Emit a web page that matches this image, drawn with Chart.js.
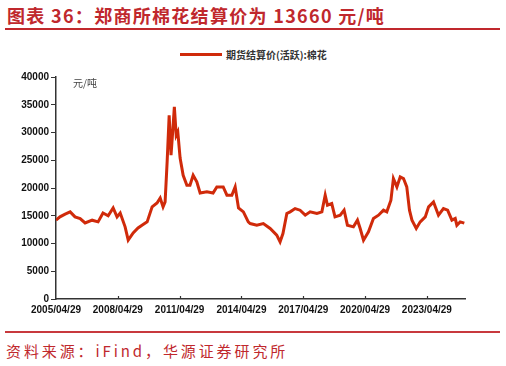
<!DOCTYPE html>
<html>
<head>
<meta charset="utf-8">
<script src="https://cdn.jsdelivr.net/npm/chart.js@4/dist/chart.umd.min.js"></script>
<style>
  html, body { margin: 0; padding: 0; background: #fff; }
  body { width: 506px; height: 366px; position: relative; overflow: hidden; }
  .title {
    position: absolute; left: 7px; top: 3px;
    font: 700 18px "Noto Sans CJK SC", sans-serif; letter-spacing: 1.3px;
    color: #c0282d; white-space: nowrap; line-height: 24px;
  }
  .rule-top { position: absolute; left: 5px; top: 28px; width: 495px; height: 2px; background: #c0282d; }
  .rule-bottom { position: absolute; left: 5px; top: 331px; width: 495px; height: 2px; background: #c8393d; }
  .source {
    position: absolute; left: 6px; top: 341px;
    font: 400 15px "Noto Sans CJK SC", sans-serif; letter-spacing: 2.9px;
    color: #c0282d; white-space: nowrap; line-height: 20px;
  }
  .legend { position: absolute; left: 180px; top: 47px; height: 16px; white-space: nowrap; }
  .legend .swatch { position: absolute; left: 0; top: 6px; width: 42px; height: 3px; background: #d02a0a; }
  .legend .label {
    position: absolute; left: 46px; top: 0; line-height: 16px;
    font: 700 10px "Noto Sans CJK SC", sans-serif; color: #333;
  }
  .unit {
    position: absolute; left: 73px; top: 76px;
    font: 400 10px "Noto Sans CJK SC", sans-serif; color: #444; line-height: 14px;
  }
  #chart { position: absolute; left: 0; top: 40px; }
</style>
</head>
<body>
<div class="title">图表 36：郑商所棉花结算价为 13660 元/吨</div>
<div class="rule-top"></div>
<div class="legend"><span class="swatch"></span><span class="label">期货结算价(活跃):棉花</span></div>
<canvas id="chart" width="506" height="280"></canvas>
<div class="unit">元/吨</div>
<div class="rule-bottom"></div>
<div class="source">资料来源：iFind，华源证券研究所</div>

<script>
// settlement price, yuan/ton
const dates = [
  '2005-04-29', '2005-07-08', '2005-10-08', '2006-01-05', '2006-04-01', '2006-07-01', '2006-09-27',
  '2007-01-30', '2007-05-15', '2007-08-10', '2007-11-10', '2008-02-06', '2008-04-15', '2008-06-10',
  '2008-09-05', '2008-10-30', '2009-01-26', '2009-04-22', '2009-07-01', '2009-10-01', '2009-12-28',
  '2010-03-25', '2010-05-20', '2010-07-10', '2010-08-15', '2010-09-20', '2010-10-26', '2010-11-28',
  '2011-01-01', '2011-01-26', '2011-02-28', '2011-03-28', '2011-05-08', '2011-07-01', '2011-09-05',
  '2011-10-30', '2011-12-25', '2012-02-28', '2012-04-27', '2012-08-25', '2012-12-12', '2013-02-17',
  '2013-06-10', '2013-08-15', '2013-11-10', '2014-01-08', '2014-03-08', '2014-06-03', '2014-08-28',
  '2014-10-01', '2015-01-26', '2015-05-22', '2015-09-20', '2016-01-15', '2016-03-14', '2016-05-04',
  '2016-07-12', '2016-09-09', '2016-12-05', '2017-03-04', '2017-06-03', '2017-08-29', '2017-12-27',
  '2018-03-25', '2018-05-23', '2018-07-02', '2018-09-16', '2018-11-13', '2019-02-13', '2019-04-23',
  '2019-06-21', '2019-10-05', '2019-12-16', '2020-02-02', '2020-04-01', '2020-06-28', '2020-09-24',
  '2020-12-23', '2021-03-21', '2021-05-19', '2021-07-31', '2021-09-13', '2021-11-14', '2022-01-12',
  '2022-03-11', '2022-05-08', '2022-06-25', '2022-08-08', '2022-10-23', '2023-01-01', '2023-04-01',
  '2023-05-30', '2023-08-25', '2023-11-21', '2024-02-17', '2024-05-01', '2024-07-16', '2024-09-13',
  '2024-10-12', '2024-12-09', '2025-02-21'
];
const prices = [
  14200, 14800, 15300, 15700, 14800, 14500, 13700,
  14200, 13900, 15500, 15000, 16400, 14800, 15500,
  13000, 10600, 11900, 12800, 13300, 13900, 16600,
  17300, 18200, 16600, 17500, 24700, 33100, 25900,
  30800, 34600, 29500, 30100, 25400, 22300, 20500,
  20500, 22300, 21100, 19100, 19300, 19100, 20200,
  20200, 18700, 18700, 20200, 16400, 15700, 13900,
  13600, 13300, 13600, 12700, 11500, 10300, 11800,
  15400, 15700, 16300, 16000, 15100, 15700, 15400,
  15700, 18700, 16900, 17200, 14800, 15100, 16000,
  13300, 13000, 14200, 12700, 10600, 12100, 14500,
  15100, 16000, 15700, 17800, 21700, 20200, 22000,
  21700, 20200, 16000, 14200, 12700, 13900, 14800,
  16600, 17500, 15100, 16300, 16000, 14200, 14500,
  13300, 13900, 13660
];
const tickLabels = ['2005/04/29', '2008/04/29', '2011/04/29', '2014/04/29', '2017/04/29', '2020/04/29', '2023/04/29'];
const seriesName = '期货结算价(活跃):棉花';

const startDate = Date.UTC(2005, 3, 29);
function yearsSince(str) {
  const p = str.split(/[-\/]/).map(Number);
  return (Date.UTC(p[0], p[1] - 1, p[2]) - startDate) / (365.25 * 86400000);
}

const points = dates.map((d, i) => ({ x: yearsSince(d), y: prices[i] }));
const tickValues = tickLabels.map(yearsSince);

// small tick marks pointing up into the plot, like the source chart
const innerTicks = {
  id: 'innerTicks',
  afterDraw(chart) {
    const ctx = chart.ctx;
    const xs = chart.scales.x;
    ctx.save();
    ctx.strokeStyle = '#333';
    ctx.lineWidth = 1.2;
    xs.ticks.forEach(t => {
      const px = Math.round(xs.getPixelForValue(t.value)) + 0.5;
      if (t.value === 0) return;
      ctx.beginPath();
      ctx.moveTo(px, xs.top);
      ctx.lineTo(px, xs.top - 3);
      ctx.stroke();
    });
    ctx.restore();
  }
};

const tickFont = { family: '"Liberation Sans", Arial, sans-serif', size: 10, weight: 700 };

new Chart(document.getElementById('chart').getContext('2d'), {
  type: 'line',
  data: {
    datasets: [{
      label: seriesName,
      data: points,
      borderColor: '#d02a0a',
      borderWidth: 3,
      pointRadius: 0,
      tension: 0,
      fill: false
    }]
  },
  options: {
    responsive: false,
    animation: false,
    devicePixelRatio: 1,
    layout: { padding: { left: 0, right: 41, top: 37, bottom: 0 } },
    scales: {
      x: {
        type: 'linear',
        min: 0,
        max: 19.85,
        afterBuildTicks: s => { s.ticks = tickValues.map(v => ({ value: v })); },
        afterFit: s => { s.height = 21; },
        grid: { display: true, drawOnChartArea: false, drawTicks: false },
        border: { display: true, color: '#333', width: 1.5 },
        ticks: {
          autoSkip: false,
          maxRotation: 0,
          padding: 5,
          color: '#111',
          font: tickFont,
          callback: (v, i) => tickLabels[i]
        }
      },
      y: {
        min: 0,
        max: 40000,
        afterFit: s => { s.width = 56; },
        grid: { display: true, drawOnChartArea: false, drawTicks: true, tickLength: 5, color: '#333' },
        border: { display: true, color: '#333', width: 1.5 },
        ticks: {
          stepSize: 5000,
          padding: 2,
          color: '#111',
          font: tickFont,
          callback: v => String(v)
        }
      }
    },
    plugins: {
      legend: { display: false },
      tooltip: { enabled: false }
    }
  },
  plugins: [innerTicks]
});
</script>
</body>
</html>
